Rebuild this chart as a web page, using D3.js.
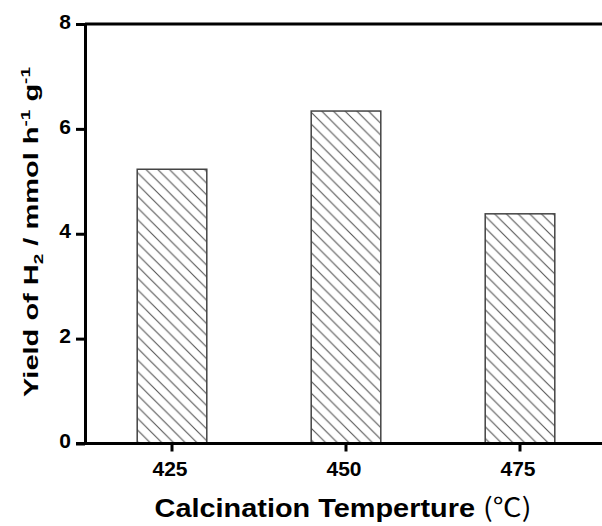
<!DOCTYPE html>
<html><head><meta charset="utf-8">
<script src="https://cdn.jsdelivr.net/npm/d3@7"></script>
<style>
body{margin:0;background:#fff}
svg{display:block;font-family:"Liberation Sans",Arial,sans-serif}
</style>
</head><body>
<svg id="c" width="602" height="526"></svg>
<script>
const categories = ["425", "450", "475"];
const yieldValues = [5.23, 6.34, 4.38];
const yTickValues = [0, 2, 4, 6, 8];
const yDomain = [0, 8];
const xTitleText = "Calcination Temperture ";
const xTitleUnit = "(℃)";

const W = 602, H = 526;
const svg = d3.select("#c");
const x = d3.scaleBand().domain(categories).range([85, 607]).paddingInner(0.6).paddingOuter(0.3);
const y = d3.scaleLinear().domain(yDomain).range([443.5, 24]);

// hatch pattern
const s = 11.7;
const defs = svg.append("defs");
const pat = defs.append("pattern").attr("id", "hatch")
  .attr("patternUnits", "userSpaceOnUse").attr("width", s).attr("height", s);
pat.append("rect").attr("width", s).attr("height", s).attr("fill", "#fff");
pat.append("path")
  .attr("d", `M0,0L${s},${s}M-2,${s-2}L2,${s+2}M${s-2},-2L${s+2},2`)
  .attr("stroke", "#555").attr("stroke-width", 1.1).attr("fill", "none");

// bars
svg.append("g").selectAll("rect").data(categories).join("rect")
  .attr("x", d => x(d))
  .attr("y", (d, i) => y(yieldValues[i]))
  .attr("width", x.bandwidth())
  .attr("height", (d, i) => y(0) - y(yieldValues[i]))
  .attr("fill", "url(#hatch)")
  .attr("stroke", "#444").attr("stroke-width", 1.5);

// frame top line
svg.append("line").attr("x1", 85).attr("x2", W).attr("y1", y(8)).attr("y2", y(8))
  .attr("stroke", "#000").attr("stroke-width", 3);

// y axis
const gy = svg.append("g").attr("transform", "translate(85,0)")
  .call(d3.axisLeft(y).tickValues(yTickValues).tickSize(9).tickSizeOuter(0).tickPadding(5).tickFormat(d3.format("d")));
gy.select(".domain").attr("stroke-width", 3);
gy.selectAll(".tick line").attr("stroke-width", 3);
gy.selectAll(".tick text").attr("font-size", 21).attr("font-weight", "bold")
  .attr("font-family", '"Liberation Sans",Arial,sans-serif').attr("fill", "#000")
  .attr("y", -2.5);

// x axis
const gx = svg.append("g").attr("transform", `translate(0,${y(0)})`)
  .call(d3.axisBottom(x).tickSize(8).tickSizeOuter(0).tickPadding(10));
gx.select(".domain").attr("stroke-width", 3).attr("d", `M76,0H${W}`);
gx.selectAll(".tick line").attr("stroke-width", 3);
gx.selectAll(".tick text").attr("font-size", 21).attr("font-weight", "bold")
  .attr("font-family", '"Liberation Sans",Arial,sans-serif').attr("fill", "#000")
  .attr("x", -2);

// y title
const yt = svg.append("text").attr("text-anchor", "middle")
  .attr("font-size", 20).attr("font-weight", "bold").attr("fill", "#000");
yt.append("tspan").text("Yield of H");
yt.append("tspan").attr("font-size", 13).attr("dy", 5).text("2");
yt.append("tspan").attr("dy", -5).text(" / mmol h");
yt.append("tspan").attr("font-size", 13).attr("dy", -8).text("-1");
yt.append("tspan").attr("dy", 8).text(" g");
yt.append("tspan").attr("font-size", 13).attr("dy", -8).text("-1");
const ytw = yt.node().getBBox().width;
yt.attr("transform", `translate(37.7,232) rotate(-90) scale(${330 / ytw},1)`);

// x title
const xt = svg.append("text").attr("text-anchor", "middle")
  .attr("font-size", 26).attr("font-weight", "bold").attr("fill", "#000");
xt.append("tspan").text(xTitleText);
xt.append("tspan").attr("font-weight", "normal").attr("font-family", '"Noto Sans CJK SC",sans-serif').text(xTitleUnit);
const xtw = xt.node().getBBox().width;
xt.attr("transform", `translate(343,517) scale(${377 / xtw},1)`);
</script>
</body></html>
